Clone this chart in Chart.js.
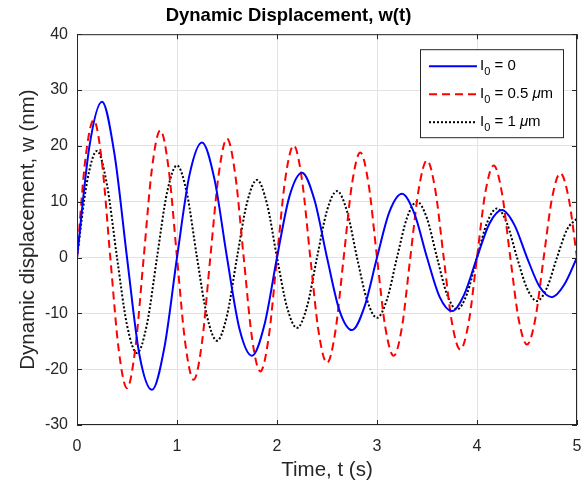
<!DOCTYPE html>
<html>
<head>
<meta charset="utf-8">
<script src="https://cdn.jsdelivr.net/npm/chart.js@4.4.0/dist/chart.umd.min.js"></script>
<style>
  html, body { margin: 0; padding: 0; background: #fff; }
  #wrap { width: 584px; height: 483px; }
</style>
</head>
<body>
<div id="wrap"><canvas id="myChart"></canvas></div>
<script>
// values, time in s, displacement in nm
const tBlue = [0, 0.125, 0.25, 0.375, 0.5, 0.625, 0.75, 0.875, 1.0, 1.125, 1.25, 1.375, 1.5, 1.625, 1.75, 1.875,
    2.0, 2.125, 2.25, 2.375, 2.5, 2.625, 2.75, 2.875, 3.0, 3.125, 3.25, 3.375, 3.5, 3.625, 3.75, 3.875,
    4.0, 4.125, 4.25, 4.375, 4.5, 4.625, 4.75, 4.875, 5.0];
const wBlue = [0, 20.0, 27.9, 18.5, 0, -17.5, -23.7, -16.0, 0, 14.8, 20.6, 14.0, 0, -12.8, -17.6, -12.0,
    0, 11.0, 15.2, 10.3, 0, -9.5, -13.0, -8.8, 0, 8.2, 11.4, 7.8, 0, -7.0, -9.6, -6.5,
    0, 6.1, 8.5, 5.8, 0, -5.2, -7.1, -4.8, 0];

const tRed = [0, 0.083, 0.167, 0.25, 0.333, 0.417, 0.5, 0.583, 0.667, 0.75, 0.833, 0.917,
    1.0, 1.083, 1.167, 1.25, 1.333, 1.417, 1.5, 1.583, 1.667, 1.75, 1.833, 1.917,
    2.0, 2.083, 2.167, 2.25, 2.333, 2.417, 2.5, 2.583, 2.667, 2.75, 2.833, 2.917,
    3.0, 3.083, 3.167, 3.25, 3.333, 3.417, 3.5, 3.583, 3.667, 3.75, 3.833, 3.917,
    4.0, 4.083, 4.167, 4.25, 4.333, 4.417, 4.5, 4.583, 4.667, 4.75, 4.833, 4.917, 5.0];
const wRed = [0, 17.5, 24.6, 17.0, 0, -16.5, -23.4, -16.3, 0, 16.0, 22.8, 15.8,
    0, -15.4, -21.9, -15.2, 0, 14.9, 21.3, 14.8, 0, -14.4, -20.4, -14.3,
    0, 14.1, 20.1, 13.9, 0, -13.4, -18.9, -13.3, 0, 13.2, 18.8, 13.0,
    0, -12.5, -17.6, -12.4, 0, 12.2, 17.4, 12.1, 0, -11.7, -16.5, -11.6,
    0, 11.6, 16.5, 11.5, 0, -11.1, -15.6, -11.0, 0, 10.6, 15.1, 10.6, 0];

const tBlack = [0, 0.1, 0.2, 0.3, 0.4, 0.5, 0.6, 0.7, 0.8, 0.9, 1.0, 1.1, 1.2, 1.3, 1.4, 1.5, 1.6, 1.7, 1.8, 1.9,
    2.0, 2.1, 2.2, 2.3, 2.4, 2.5, 2.6, 2.7, 2.8, 2.9, 3.0, 3.1, 3.2, 3.3, 3.4, 3.5, 3.6, 3.7, 3.8, 3.9,
    4.0, 4.1, 4.2, 4.3, 4.4, 4.5, 4.6, 4.7, 4.8, 4.9, 5.0];
const wBlack = [0, 13.5, 19.1, 13.0, 0, -12.1, -17.1, -11.9, 0, 11.6, 16.5, 11.4, 0, -10.5, -14.9, -10.4, 0, 9.8, 13.9, 9.6,
    0, -8.9, -12.6, -8.8, 0, 8.4, 11.9, 8.3, 0, -7.6, -10.8, -7.5, 0, 7.1, 10.0, 7.0, 0, -6.6, -9.3, -6.5,
    0, 6.2, 8.8, 6.1, 0, -5.5, -7.8, -5.4, 0, 5.0, 7.0];

const seriesLabels = ['I\u2080 = 0', 'I\u2080 = 0.5 \u03bcm', 'I\u2080 = 1 \u03bcm'];
const xTicks = [0, 1, 2, 3, 4, 5];
const yTicks = [-30, -20, -10, 0, 10, 20, 30, 40];

const axisColor = '#262626';
const fontName = "'Liberation Sans', Arial, Helvetica, sans-serif";

function toPoints(ts, ws) {
    return ts.map(function (t, i) { return { x: t, y: ws[i] }; });
}

// box round the axes, inward tick marks and the legend box, MATLAB style
const matlabBox = {
    id: 'matlabBox',
    afterDatasetsDraw: function (chart) {
        const ctx = chart.ctx;
        const a = chart.chartArea;
        const xs = chart.scales.x, ys = chart.scales.y;
        ctx.save();
        ctx.strokeStyle = axisColor;
        ctx.lineWidth = 1;
        ctx.strokeRect(a.left + 0.5, a.top + 0.5, a.right - a.left - 1, a.bottom - a.top - 1);
        ctx.beginPath();
        xTicks.forEach(function (v) {
            let px = Math.round(xs.getPixelForValue(v)) + 0.5;
            ctx.moveTo(px, a.bottom); ctx.lineTo(px, a.bottom - 5);
            ctx.moveTo(px, a.top); ctx.lineTo(px, a.top + 5);
        });
        yTicks.forEach(function (v) {
            let py = Math.round(ys.getPixelForValue(v)) + 0.5;
            ctx.moveTo(a.left, py); ctx.lineTo(a.left + 5, py);
            ctx.moveTo(a.right, py); ctx.lineTo(a.right - 5, py);
        });
        ctx.stroke();

        // legend
        let bw = 143, bh = 88;
        let bx = a.right - 14 - bw, by = a.top + 15;
        ctx.fillStyle = '#fff';
        ctx.fillRect(bx, by, bw, bh);
        ctx.strokeStyle = axisColor;
        ctx.strokeRect(bx + 0.5, by + 0.5, bw, bh);
        chart.data.datasets.forEach(function (ds, i) {
            let yy = by + 17 + i * 28;
            ctx.beginPath();
            ctx.strokeStyle = ds.borderColor;
            ctx.lineWidth = ds.borderWidth;
            ctx.setLineDash(ds.borderDash || []);
            ctx.moveTo(bx + 9, yy); ctx.lineTo(bx + 57, yy);
            ctx.stroke();
            ctx.setLineDash([]);
            // label with subscript and italic mu
            let parts = ds.label.split('\u2080');
            let x0 = bx + 60;
            ctx.fillStyle = '#000';
            ctx.textBaseline = 'middle';
            ctx.textAlign = 'left';
            ctx.font = '15px ' + fontName;
            ctx.fillText(parts[0], x0, yy);
            x0 += ctx.measureText(parts[0]).width;
            ctx.font = '11px ' + fontName;
            ctx.fillText('0', x0, yy + 6);
            x0 += ctx.measureText('0').width;
            let rest = parts[1].split('\u03bc');
            ctx.font = '15px ' + fontName;
            ctx.fillText(rest[0], x0, yy);
            x0 += ctx.measureText(rest[0]).width;
            if (rest.length > 1) {
                ctx.font = 'italic 15px ' + fontName;
                ctx.fillText('\u03bc', x0, yy);
                x0 += ctx.measureText('\u03bc').width;
                ctx.font = '15px ' + fontName;
                ctx.fillText(rest[1], x0, yy);
            }
        });
        ctx.restore();
    }
};

const data = {
    datasets: [{
        label: seriesLabels[0],
        data: toPoints(tBlue, wBlue),
        borderColor: '#0000ff',
        borderWidth: 2
    }, {
        label: seriesLabels[1],
        data: toPoints(tRed, wRed),
        borderColor: '#ff0000',
        borderWidth: 2,
        borderDash: [8, 5]
    }, {
        label: seriesLabels[2],
        data: toPoints(tBlack, wBlack),
        borderColor: '#000000',
        borderWidth: 2,
        borderDash: [2, 2]
    }]
};

const config = {
    type: 'line',
    data: data,
    options: {
        responsive: false,
        animation: false,
        layout: { padding: { top: 2, right: 7, left: 0, bottom: 0 } },
        elements: {
            point: { radius: 0 },
            line: { cubicInterpolationMode: 'monotone', fill: false }
        },
        plugins: {
            legend: { display: false },
            tooltip: { enabled: false },
            title: {
                display: true,
                text: 'Dynamic Displacement, w(t)',
                color: '#000',
                font: { family: fontName, size: 18.5, weight: 'bold' },
                padding: { top: 3, bottom: 7 }
            }
        },
        scales: {
            x: {
                type: 'linear',
                min: 0, max: 5,
                afterBuildTicks: function (s) { s.ticks = xTicks.map(function (v) { return { value: v }; }); },
                afterFit: function (s) { s.height = 58; s.paddingLeft = 0; s.paddingRight = 0; },
                grid: { color: '#e3e3e3', drawTicks: false },
                border: { display: false },
                ticks: { color: axisColor, padding: 12, font: { family: fontName, size: 16 } },
                title: {
                    display: true, text: 'Time, t (s)', color: axisColor,
                    font: { family: fontName, size: 20.5 }, padding: { top: 0, bottom: 0 }
                }
            },
            y: {
                min: -30, max: 40,
                afterBuildTicks: function (s) { s.ticks = yTicks.map(function (v) { return { value: v }; }); },
                afterFit: function (s) { s.width = 77; s.paddingTop = 0; s.paddingBottom = 0; },
                grid: { color: '#e3e3e3', drawTicks: false },
                border: { display: false },
                ticks: { color: axisColor, padding: 9, font: { family: fontName, size: 16 } },
                title: {
                    display: true, text: 'Dynamic displacement, w (nm)', color: axisColor,
                    font: { family: fontName, size: 20.5 }, padding: { top: 16, bottom: 0 }
                }
            }
        }
    },
    plugins: [matlabBox]
};

let c = document.getElementById('myChart');
c.width = 584; c.height = 483;
var curchart = new Chart(c.getContext('2d'), config);
</script>
</body>
</html>
